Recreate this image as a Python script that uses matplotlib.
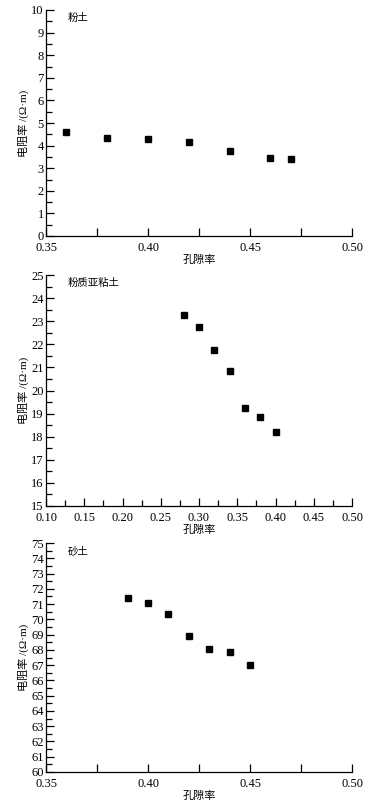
import numpy as np
import matplotlib
matplotlib.use('Agg')
import matplotlib.pyplot as plt
from matplotlib.ticker import MultipleLocator, FormatStrFormatter

plt.rcParams['font.family'] = ['Liberation Serif', 'Noto Sans CJK SC']

# ------------------------- data -------------------------
silt_por = [0.36, 0.38, 0.40, 0.42, 0.44, 0.46, 0.47]
silt_res = [4.61, 4.33, 4.29, 4.15, 3.76, 3.46, 3.40]

clay_por = [0.28, 0.30, 0.32, 0.34, 0.36, 0.38, 0.40]
clay_res = [23.28, 22.73, 21.74, 20.84, 19.23, 18.86, 18.19]

sand_por = [0.39, 0.40, 0.41, 0.42, 0.43, 0.44, 0.45]
sand_res = [71.42, 71.05, 70.33, 68.93, 68.03, 67.84, 67.03]

titles = ['粉土', '粉质亚粘土', '砂土']
xlims = [(0.35, 0.50), (0.10, 0.50), (0.35, 0.50)]
ylims = [(0, 10), (15, 25), (60, 75)]
# ------------------------------------------------------------------------------

W, H = 369, 808
fig = plt.figure(figsize=(W/100, H/100), dpi=100)

# axes boxes in pixels: left, top, right, bottom
boxes = [(46, 10, 352, 236), (46, 275, 352, 506), (46, 543, 352, 772)]
series = [(silt_por, silt_res), (clay_por, clay_res), (sand_por, sand_res)]

cjk = ['Noto Sans CJK SC', 'DejaVu Sans']
mixed = ['Liberation Serif', 'Noto Sans CJK SC']

for i in range(3):
    l, t, r, b = boxes[i]
    ax = fig.add_axes([l/W, 1-b/H, (r-l)/W, (b-t)/H])
    x, y = series[i]
    ax.plot(x, y, 's', color='black', markersize=4.5, clip_on=False)

    ax.set_xlim(*xlims[i])
    ax.set_ylim(*ylims[i])
    ax.spines['top'].set_visible(False)
    ax.spines['right'].set_visible(False)
    for s in ['left', 'bottom']:
        ax.spines[s].set_linewidth(0.9)

    ax.xaxis.set_major_locator(MultipleLocator(0.05))
    ax.xaxis.set_minor_locator(MultipleLocator(0.025))
    ax.xaxis.set_major_formatter(FormatStrFormatter('%.2f'))
    ax.yaxis.set_major_locator(MultipleLocator(1))
    ax.yaxis.set_minor_locator(MultipleLocator(0.5))

    ax.tick_params(which='both', direction='in', labelsize=9, width=0.9)
    ax.tick_params(axis='y', pad=1.5)
    ax.tick_params(axis='x', pad=4.5)
    ax.tick_params(which='major', length=6)
    ax.tick_params(which='minor', length=4)
    if i != 1:
        ax.tick_params(axis='x', which='minor', length=6)

    ax.set_xlabel('孔隙率', family=cjk, fontsize=8, labelpad=0)
    ax.set_ylabel('电阻率 /(Ω·m)', family=mixed, fontsize=8, labelpad=2)
    ax.text(0.07, 0.985, titles[i], transform=ax.transAxes, family=cjk,
            fontsize=7.5, va='top', ha='left')

fig.savefig('out.png', dpi=100)
